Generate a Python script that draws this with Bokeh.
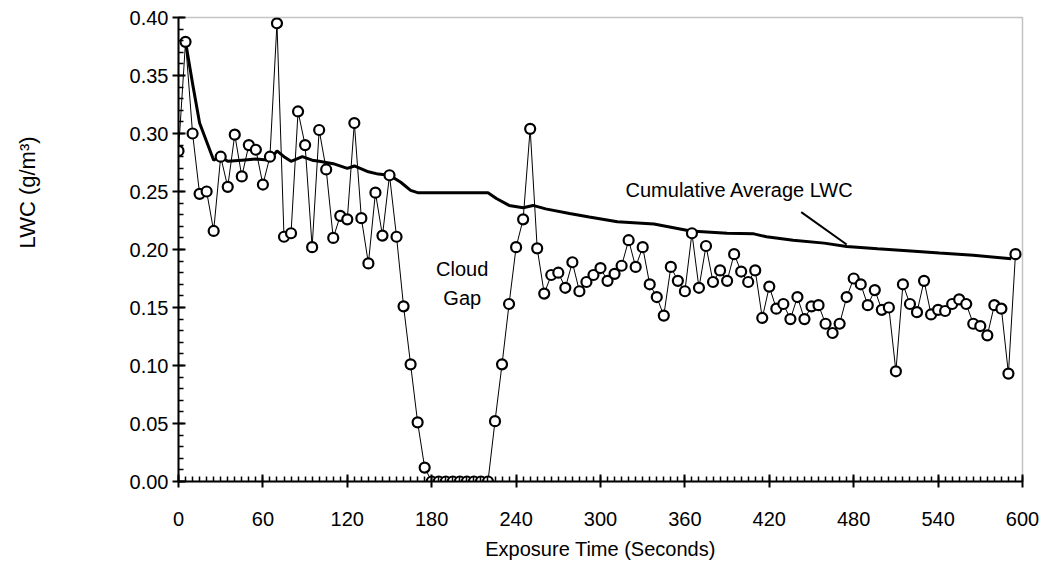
from math import pi
from bokeh.plotting import figure
from bokeh.layouts import row
from bokeh.models import FixedTicker, NumeralTickFormatter, Range1d
from bokeh.embed import file_html
from bokeh.resources import INLINE
from bokeh.core.properties import value

# ---- data ----
time_s = list(range(0, 600, 5))
lwc = [
    0.285, 0.379, 0.300, 0.248, 0.250, 0.216, 0.280, 0.254, 0.299, 0.263,
    0.290, 0.286, 0.256, 0.280, 0.395, 0.211, 0.214, 0.319, 0.290, 0.202,
    0.303, 0.269, 0.210, 0.229, 0.226, 0.309, 0.227, 0.188, 0.249, 0.212,
    0.264, 0.211, 0.151, 0.101, 0.051, 0.012,
    0.0, 0.0, 0.0, 0.0, 0.0, 0.0, 0.0, 0.0, 0.0,
    0.052, 0.101, 0.153, 0.202, 0.226, 0.304, 0.201, 0.162, 0.178, 0.180,
    0.167, 0.189, 0.164, 0.172, 0.178, 0.184, 0.173, 0.179, 0.186, 0.208,
    0.185, 0.202, 0.170, 0.159, 0.143, 0.185, 0.173, 0.164, 0.214, 0.167,
    0.203, 0.172, 0.182, 0.173, 0.196, 0.181, 0.172, 0.182, 0.141, 0.168,
    0.149, 0.153, 0.140, 0.159, 0.140, 0.151, 0.152, 0.136, 0.128, 0.136,
    0.159, 0.175, 0.170, 0.152, 0.165, 0.148, 0.150, 0.095, 0.170, 0.153,
    0.146, 0.173, 0.144, 0.148, 0.147, 0.153, 0.157, 0.153, 0.136, 0.134,
    0.126, 0.152, 0.149, 0.093, 0.196,
]
avg_time = [5, 10, 15, 25, 30, 35, 45, 55, 65, 70, 75, 80, 88, 95, 100, 110,
            120, 125, 135, 142, 150, 158, 165, 170, 220, 226, 235, 245, 252,
            261, 278, 292, 312, 338, 364, 390, 409, 418, 437, 459, 475, 497,
            518, 541, 565, 592]
avg_lwc = [0.379, 0.343, 0.309, 0.277, 0.280, 0.276, 0.277, 0.278, 0.277,
           0.285, 0.280, 0.276, 0.280, 0.277, 0.276, 0.274, 0.270, 0.272,
           0.267, 0.265, 0.264, 0.258, 0.251, 0.249, 0.249, 0.244, 0.238,
           0.236, 0.238, 0.235, 0.231, 0.228, 0.224, 0.222, 0.216, 0.214,
           0.2135, 0.211, 0.208, 0.2055, 0.2026, 0.2006, 0.199, 0.197,
           0.195, 0.192]
x_ticks = [0, 60, 120, 180, 240, 300, 360, 420, 480, 540, 600]
y_ticks = [0.00, 0.05, 0.10, 0.15, 0.20, 0.25, 0.30, 0.35, 0.40]

FONT = "Liberation Sans"
W, H = 1047, 565
LEFT_W = 60

# ---- narrow strip holding the rotated y-axis title ----
lf = figure(width=LEFT_W, height=H, output_backend="svg", toolbar_location=None,
            title=None, x_range=Range1d(0, LEFT_W), y_range=Range1d(0, H),
            x_axis_location=None, y_axis_location=None, min_border=0)
lf.grid.visible = False
lf.outline_line_color = None
lf.background_fill_color = "white"
lf.border_fill_color = "white"
lf.text(x=[27], y=[H - 213], text=["LWC (g/m³)"], angle=pi / 2,
        text_font=value(FONT), text_font_size="22px", text_align="center",
        text_baseline="middle", text_color="black")

# ---- main chart ----
p = figure(width=W - LEFT_W, height=H, output_backend="svg",
           toolbar_location=None, title=None,
           x_range=Range1d(0, 600), y_range=Range1d(0, 0.4),
           min_border_left=118, min_border_right=25, min_border_top=17,
           min_border_bottom=84)
p.background_fill_color = "white"
p.border_fill_color = "white"
p.xgrid.visible = False
p.ygrid.visible = False
p.outline_line_color = "#8a8a8a"
p.outline_line_width = 1.5
p.outline_line_dash = "1 1"

p.xaxis.ticker = FixedTicker(ticks=x_ticks, minor_ticks=list(range(0, 601, 5)))
p.yaxis.ticker = FixedTicker(ticks=y_ticks,
                             minor_ticks=[i / 100 for i in range(0, 41)])
p.yaxis.formatter = NumeralTickFormatter(format="0.00")
for ax in (p.xaxis, p.yaxis):
    ax.axis_line_color = "black"
    ax.axis_line_width = 2
    ax.major_tick_line_color = "black"
    ax.major_tick_line_width = 2
    ax.minor_tick_line_color = "black"
    ax.minor_tick_line_width = 1.5
    ax.major_tick_in = 7
    ax.major_tick_out = 6
    ax.minor_tick_in = 5
    ax.minor_tick_out = 0
    ax.major_label_text_font = FONT
    ax.major_label_text_font_size = "20px"
    ax.major_label_text_color = "black"
    ax.axis_label_text_font = FONT
    ax.axis_label_text_font_size = "20px"
    ax.axis_label_text_font_style = "normal"
    ax.axis_label_text_color = "black"
p.yaxis.major_label_standoff = 4
p.xaxis.major_label_standoff = 24
p.xaxis.axis_label = "Exposure Time (Seconds)"
p.xaxis.axis_label_standoff = 9

# series
p.line(time_s, lwc, line_color="black", line_width=1)
p.line(avg_time, avg_lwc, line_color="black", line_width=3)
p.scatter(time_s, lwc, marker="circle", size=10, fill_color="white",
          line_color="black", line_width=2.2)

# annotations
p.segment(x0=[442.7], y0=[0.2322], x1=[475.0], y1=[0.2043],
          line_color="black", line_width=2)
p.text(x=[317.8], y=[0.2517], text=["Cumulative Average LWC"],
       text_font=value(FONT), text_font_size="20px", text_align="left",
       text_baseline="middle", text_color="black")
p.text(x=[201.7, 201.7], y=[0.1834, 0.1584], text=["Cloud", "Gap"],
       text_font=value(FONT), text_font_size="20px", text_align="center",
       text_baseline="middle", text_color="black")

layout = row(lf, p)
open("out.html", "w").write(file_html(layout, INLINE))
